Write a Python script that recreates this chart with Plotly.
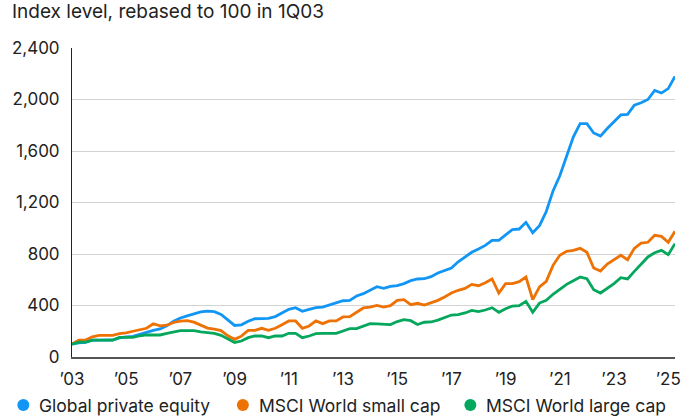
import plotly.graph_objects as go

# Quarter labels 1Q03 .. 2Q25
quarters = [f"{q}Q{y % 100:02d}" for y in range(2003, 2026) for q in range(1, 5)][:90]

global_pe = [
    100, 110, 113, 130, 131, 131, 132, 148, 157, 160,
    176, 195, 207, 218, 242, 278, 303, 320, 338, 350,
    357, 352, 330, 285, 245, 250, 278, 297, 298, 300,
    314, 344, 370, 383, 355, 370, 383, 388, 406, 422,
    437, 440, 474, 492, 518, 546, 533, 549, 554, 570,
    593, 606, 608, 624, 652, 673, 691, 740, 777, 813,
    839, 867, 906, 906, 948, 990, 994, 1046, 965, 1020,
    1130, 1290, 1408, 1555, 1710, 1812, 1812, 1740, 1716, 1775,
    1830, 1880, 1884, 1956, 1975, 2000, 2070, 2050, 2085, 2180,
]

msci_small = [
    100, 131, 131, 157, 168, 168, 168, 182, 187, 200,
    212, 223, 258, 242, 247, 268, 279, 282, 271, 245,
    225, 216, 205, 165, 137, 162, 207, 207, 223, 207,
    223, 251, 280, 280, 223, 241, 280, 259, 280, 280,
    311, 313, 350, 381, 388, 400, 388, 399, 440, 445,
    406, 417, 404, 419, 440, 466, 497, 518, 533, 564,
    554, 577, 606, 497, 570, 570, 585, 621, 445, 544,
    588, 712, 790, 821, 828, 844, 813, 691, 668, 722,
    753, 790, 756, 844, 885, 891, 945, 937, 891, 976,
]

msci_large = [
    100, 116, 116, 131, 131, 131, 131, 152, 152, 152,
    165, 171, 171, 171, 184, 195, 205, 205, 205, 195,
    190, 184, 168, 140, 113, 124, 150, 163, 163, 150,
    163, 163, 184, 184, 150, 163, 181, 184, 184, 184,
    202, 220, 220, 241, 259, 257, 252, 252, 275, 290,
    282, 252, 270, 272, 287, 305, 326, 329, 342, 362,
    352, 365, 383, 347, 375, 396, 399, 432, 347, 419,
    440, 487, 528, 564, 593, 621, 608, 523, 497, 533,
    570, 616, 606, 665, 725, 777, 810, 828, 795, 880,
]

series_names = ["Global private equity", "MSCI World small cap", "MSCI World large cap"]
series_values = [global_pe, msci_small, msci_large]
colors = ["#1196F5", "#EE7203", "#05A75C"]

tick_quarters = [f"1Q{y % 100:02d}" for y in range(2003, 2026, 2)]
tick_text = [f"\u2019{y % 100:02d}" for y in range(2003, 2026, 2)]
y_ticks = [0, 400, 800, 1200, 1600, 2000, 2400]

FONT = "Inter, Roboto, sans-serif"
TEXT = "#222222"

W, H = 693, 416
M_L, M_R, M_T, M_B = 70, 16, 48, 59
PLOT_W = W - M_L - M_R
PLOT_H = H - M_T - M_B


def paper_x(px):
    return (px - M_L) / PLOT_W


def paper_y(py):
    return (H - M_B - py) / PLOT_H


fig = go.Figure()

for name, vals, col in zip(series_names, series_values, colors):
    fig.add_trace(go.Scatter(
        x=quarters, y=vals, mode="lines", name=name,
        line=dict(color=col, width=2.8, shape="linear"),
        showlegend=False, hoverinfo="skip",
    ))

# Key below the plot: a round swatch followed by the series name
key_dot_px = [21, 242, 471]
key_row_py = 405
for name, col, dx in zip(series_names, colors, key_dot_px):
    fig.add_shape(
        type="circle", xref="paper", yref="paper",
        xsizemode="pixel", ysizemode="pixel",
        xanchor=paper_x(dx), yanchor=paper_y(key_row_py),
        x0=-6, x1=6, y0=-6, y1=6,
        fillcolor=col, line=dict(width=0),
    )
    fig.add_annotation(
        text=name, xref="paper", yref="paper",
        x=paper_x(dx + 14), y=paper_y(key_row_py),
        xanchor="left", yanchor="middle", showarrow=False,
        font=dict(family=FONT, size=17.5, color=TEXT),
    )

fig.update_layout(
    width=W, height=H,
    margin=dict(l=M_L, r=M_R, t=M_T, b=M_B),
    paper_bgcolor="white", plot_bgcolor="white",
    font=dict(family=FONT, size=17, color=TEXT),
    title=dict(
        text="Index level, rebased to 100 in 1Q03",
        x=0, xref="container", xanchor="left",
        y=1, yref="container", yanchor="top",
        pad=dict(t=5, l=12),
        font=dict(family=FONT, size=19, color=TEXT),
    ),
    showlegend=False,
)

fig.update_xaxes(
    type="category",
    categoryorder="array", categoryarray=quarters,
    range=[0, len(quarters) - 1],
    tickmode="array", tickvals=tick_quarters, ticktext=tick_text,
    showgrid=False, zeroline=False,
    showline=True, linecolor="#555555", linewidth=1.5,
    ticks="", ticklabelstandoff=6,
    tickfont=dict(family=FONT, size=17, color=TEXT),
)

fig.update_yaxes(
    range=[0, 2400],
    tickmode="array", tickvals=y_ticks,
    tickformat=",",
    showgrid=True, gridcolor="#d3d3d3", gridwidth=1,
    zeroline=False,
    showline=True, linecolor="#222222", linewidth=1,
    ticks="", ticklabelstandoff=8,
    tickfont=dict(family=FONT, size=17, color=TEXT),
)

fig.write_html("out.html")
